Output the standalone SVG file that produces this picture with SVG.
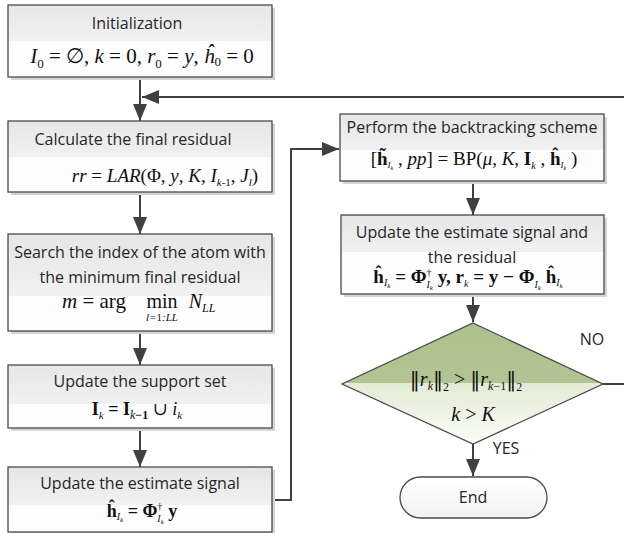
<svg xmlns="http://www.w3.org/2000/svg" width="624" height="533" viewBox="0 0 624 533">
<defs>
<linearGradient id="gTop" x1="0" y1="0" x2="0" y2="1">
<stop offset="0" stop-color="#e6e6e6"/><stop offset="1" stop-color="#f1f1f1"/>
</linearGradient>
<linearGradient id="gDia" x1="0" y1="0" x2="0" y2="1">
<stop offset="0" stop-color="#adc08c"/><stop offset="0.5" stop-color="#b2c494"/>
<stop offset="0.5" stop-color="#e3ebd5"/><stop offset="1" stop-color="#fbfcf8"/>
</linearGradient>
<linearGradient id="gEnd" x1="0" y1="0" x2="0" y2="1">
<stop offset="0" stop-color="#ffffff"/><stop offset="1" stop-color="#f2f2f2"/>
</linearGradient>
<marker id="ah" markerUnits="userSpaceOnUse" markerWidth="18" markerHeight="14" refX="17" refY="7" orient="auto">
<path d="M0,0 L17,7 L0,14 Z" fill="#404040"/>
</marker>
<style>
.sh{fill:#d4d4d4}
.bg{fill:#fdfdfd}
.tp{fill:url(#gTop)}
.bd{fill:none;stroke:#4a4a4a;stroke-width:1.3}
.lb{font-family:"Open Sans","Liberation Sans",sans-serif;font-size:16px;fill:#262626;text-anchor:middle}
.m{font-family:"Liberation Serif","DejaVu Serif",serif;fill:#111;text-anchor:middle}
.i{font-style:italic}
.b{font-weight:bold}
.n{font-family:"DejaVu Serif",serif;font-style:normal}
.c{fill:none;stroke:#404040;stroke-width:2}
</style>
</defs>

<g id="connectors">
<path class="c" d="M140,77 V121" marker-end="url(#ah)"/>
<path class="c" d="M603,384 H627 V97 H142" marker-end="url(#ah)"/>
<path class="c" d="M140,192 V234" marker-end="url(#ah)"/>
<path class="c" d="M140,332 V365" marker-end="url(#ah)"/>
<path class="c" d="M140,429 V467" marker-end="url(#ah)"/>
<path class="c" d="M272,500 H291 V149 H339" marker-end="url(#ah)"/>
<path class="c" d="M473,182 V215" marker-end="url(#ah)"/>
<path class="c" d="M473,295 V322" marker-end="url(#ah)"/>
<path class="c" d="M473,444 V476" marker-end="url(#ah)"/>
</g>

<g id="init">
<rect class="sh" x="11" y="8" width="264" height="72"/>
<rect class="bg" x="8" y="5" width="264" height="72"/>
<rect class="tp" x="8" y="5" width="264" height="36"/>
<rect class="bd" x="8" y="5" width="264" height="72"/>
<text class="lb" x="137" y="29">Initialization</text>
<text class="m" x="142" y="63" font-size="21"><tspan class="i">I</tspan><tspan font-size="13" dy="5">0</tspan><tspan dy="-5"> = ∅, </tspan><tspan class="i">k</tspan> = 0, <tspan class="i">r</tspan><tspan font-size="13" dy="5">0</tspan><tspan dy="-5"> = </tspan><tspan class="i">y</tspan>, <tspan class="i">ĥ</tspan><tspan font-size="13" dy="3">0</tspan><tspan dy="-3"> = 0</tspan></text>
</g>

<g id="calc">
<rect class="sh" x="11" y="124" width="264" height="71"/>
<rect class="bg" x="8" y="121" width="264" height="71"/>
<rect class="tp" x="8" y="121" width="264" height="36"/>
<rect class="bd" x="8" y="121" width="264" height="71"/>
<text class="lb" x="133" y="145">Calculate the final residual</text>
<text class="m" x="165" y="182" font-size="19"><tspan class="i">rr</tspan> = <tspan class="i">LAR</tspan>(Φ, <tspan class="i">y</tspan>, <tspan class="i">K</tspan>, <tspan class="i">I</tspan><tspan class="i" font-size="11" dy="4">k</tspan><tspan font-size="11">-1</tspan><tspan dy="-4">, </tspan><tspan class="i">J</tspan><tspan class="i" font-size="11" dy="4">l</tspan><tspan dy="-4">)</tspan></text>
</g>

<g id="search">
<rect class="sh" x="11" y="237" width="264" height="97"/>
<rect class="bg" x="8" y="234" width="264" height="97"/>
<rect class="tp" x="8" y="234" width="264" height="62"/>
<rect class="bd" x="8" y="234" width="264" height="97"/>
<text class="lb" x="140" y="258">Search the index of the atom with</text>
<text class="lb" x="140" y="283">the minimum final residual</text>
<text class="m" x="94" y="308" font-size="21"><tspan class="i">m</tspan> = arg</text>
<text class="m" x="162" y="308" font-size="20">min</text>
<text class="m i" x="162" y="321" font-size="11">l=<tspan font-style="normal">1</tspan>:LL</text>
<text class="m" x="202" y="308" font-size="20"><tspan class="i">N</tspan><tspan class="i" font-size="12" dy="4">LL</tspan></text>
</g>

<g id="support">
<rect class="sh" x="11" y="368" width="264" height="63"/>
<rect class="bg" x="8" y="365" width="264" height="63"/>
<rect class="tp" x="8" y="365" width="264" height="39"/>
<rect class="bd" x="8" y="365" width="264" height="63"/>
<text class="lb" x="140" y="387">Update the support set</text>
<text class="m b" x="137" y="415" font-size="18">I<tspan class="i" font-weight="normal" font-size="11" dy="4">k</tspan><tspan dy="-4"> = I</tspan><tspan class="i" font-weight="normal" font-size="12" dy="4">k</tspan><tspan font-size="12" dy="0">−1</tspan><tspan font-weight="normal" dy="-4"> ∪ </tspan><tspan class="i" font-weight="normal">i</tspan><tspan class="i" font-weight="normal" font-size="11" dy="4">k</tspan></text>
</g>

<g id="estimate">
<rect class="sh" x="11" y="470" width="264" height="66"/>
<rect class="bg" x="8" y="467" width="264" height="65"/>
<rect class="tp" x="8" y="467" width="264" height="38"/>
<rect class="bd" x="8" y="467" width="264" height="65"/>
<text class="lb" x="140" y="489">Update the estimate signal</text>
<text class="m b" x="142" y="517" font-size="18">ĥ<tspan class="i" font-weight="normal" font-size="10" dy="3">I</tspan><tspan class="i" font-weight="normal" font-size="7" dy="2">k</tspan><tspan dy="-5"> = Φ</tspan><tspan font-weight="normal" font-size="10" dy="-7">†</tspan><tspan class="i" font-weight="normal" font-size="10" dx="-5" dy="12">I</tspan><tspan class="i" font-weight="normal" font-size="7" dy="2">k</tspan><tspan dy="-7"> y</tspan></text>
</g>

<g id="backtrack">
<rect class="sh" x="343" y="117" width="264" height="67"/>
<rect class="bg" x="340" y="114" width="264" height="67"/>
<rect class="tp" x="340" y="114" width="264" height="36"/>
<rect class="bd" x="340" y="114" width="264" height="67"/>
<text class="lb" x="472" y="133">Perform the backtracking scheme</text>
<text class="m" x="474" y="165" font-size="19">[<tspan class="b">h̃</tspan><tspan class="i" font-size="9" dy="3">I</tspan><tspan class="i" font-size="6" dy="2">k</tspan><tspan dy="-5"> , </tspan><tspan class="i">pp</tspan>] = BP(<tspan class="i">μ</tspan>, <tspan class="i">K</tspan>, <tspan class="b">I</tspan><tspan class="i" font-size="10" dy="4">k</tspan><tspan dy="-4"> , </tspan><tspan class="b">ĥ</tspan><tspan class="i" font-size="9" dy="3">I</tspan><tspan class="i" font-size="6" dy="2">k</tspan><tspan dy="-5"> )</tspan></text>
</g>

<g id="update_er">
<rect class="sh" x="344" y="218" width="263" height="79"/>
<rect class="bg" x="341" y="215" width="263" height="79"/>
<rect class="tp" x="341" y="215" width="263" height="37"/>
<rect class="bd" x="341" y="215" width="263" height="79"/>
<text class="lb" x="472" y="238">Update the estimate signal and</text>
<text class="lb" x="472" y="263">the residual</text>
<text class="m b" x="468" y="283" font-size="19">ĥ<tspan class="i" font-weight="normal" font-size="10" dy="3">I</tspan><tspan class="i" font-weight="normal" font-size="7" dy="2">k</tspan><tspan dy="-5"> = Φ</tspan><tspan font-weight="normal" font-size="10" dy="-7">†</tspan><tspan class="i" font-weight="normal" font-size="10" dx="-5" dy="12">I</tspan><tspan class="i" font-weight="normal" font-size="7" dy="2">k</tspan><tspan dy="-7"> y,  r</tspan><tspan class="i" font-weight="normal" font-size="10" dy="4">k</tspan><tspan dy="-4"> = y − Φ</tspan><tspan class="i" font-weight="normal" font-size="10" dy="5">I</tspan><tspan class="i" font-weight="normal" font-size="7" dy="2">k</tspan><tspan dy="-7"> ĥ</tspan><tspan class="i" font-weight="normal" font-size="10" dy="3">I</tspan><tspan class="i" font-weight="normal" font-size="7" dy="2">k</tspan></text>
</g>

<g id="decision">
<polygon points="473,323 603,384 473,444 342,384" fill="url(#gDia)" stroke="#4a4a4a" stroke-width="1.3"/>
<text class="m" x="466" y="386" font-size="20"><tspan class="n">‖</tspan><tspan class="i">r</tspan><tspan class="i" font-size="12" dy="4">k</tspan><tspan class="n" dy="-4">‖</tspan><tspan font-size="12" dy="5">2</tspan><tspan dy="-5"> &gt; </tspan><tspan class="n">‖</tspan><tspan class="i">r</tspan><tspan class="i" font-size="12" dy="4">k</tspan><tspan font-size="12">−1</tspan><tspan class="n" dy="-4">‖</tspan><tspan font-size="12" dy="5">2</tspan></text>
<text class="m" x="473" y="421" font-size="20"><tspan class="i">k</tspan> &gt; <tspan class="i">K</tspan></text>
<text class="lb" x="592" y="345">NO</text>
<text class="lb" x="506" y="454">YES</text>
</g>

<g id="end">
<rect x="400" y="477" width="147" height="41" rx="20.5" fill="url(#gEnd)" stroke="#4a4a4a" stroke-width="1.3"/>
<text class="lb" x="473" y="503">End</text>
</g>
</svg>
